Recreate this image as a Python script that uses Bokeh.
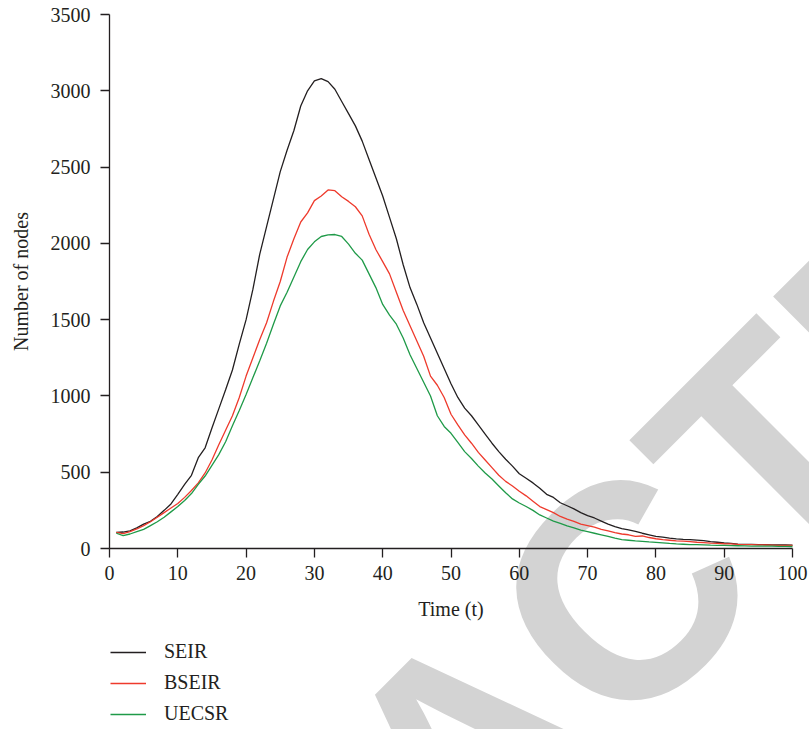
from bokeh.plotting import figure
from bokeh.models import Range1d, FixedTicker, Legend, LegendItem, Label, LinearAxis
from bokeh.embed import file_html
from bokeh.resources import INLINE
import math

# ---------------- data ----------------
t = list(range(1, 101))

seir = [105, 108, 115, 135, 160, 178, 210, 250, 292, 355,
        420, 480, 595, 660, 790, 915, 1040, 1170, 1340, 1500,
        1700, 1930, 2110, 2290, 2470, 2610, 2740, 2900, 3000, 3065,
        3080, 3060, 3010, 2930, 2850, 2770, 2670, 2550, 2430, 2310,
        2170, 2030, 1860, 1710, 1600, 1480, 1380, 1280, 1180, 1080,
        990, 920, 870, 810, 750, 690, 635, 585, 540, 490,
        460, 430, 395, 355, 335, 300, 280, 260, 235, 215,
        200, 180, 160, 143, 130, 122, 112, 100, 90, 80,
        74, 68, 63, 60, 58, 55, 52, 45, 41, 36,
        33, 28, 27, 27, 26, 25, 24, 23, 23, 22]

bseir = [105, 97, 110, 128, 150, 175, 205, 235, 265, 295,
         335, 380, 430, 495, 580, 680, 775, 870, 990, 1130,
         1250, 1370, 1480, 1620, 1750, 1910, 2030, 2140, 2200, 2280,
         2310, 2350, 2345, 2305, 2275, 2240, 2180, 2060, 1960, 1880,
         1800, 1680, 1560, 1460, 1360, 1260, 1130, 1070, 990, 880,
         810, 745, 690, 630, 580, 530, 480, 440, 410, 375,
         345, 310, 275, 255, 235, 210, 192, 178, 160, 150,
         140, 125, 115, 104, 95, 90, 80, 82, 72, 64,
         58, 54, 50, 48, 45, 41, 38, 35, 33, 31,
         30, 27, 26, 25, 24, 23, 22, 21, 21, 20]

uecsr = [100, 85, 95, 110, 125, 150, 175, 205, 240, 275,
         315, 360, 420, 475, 545, 615, 700, 805, 905, 1010,
         1120, 1230, 1345, 1470, 1590, 1680, 1780, 1880, 1960, 2010,
         2045, 2055, 2058, 2045, 1995, 1935, 1890, 1800, 1710, 1600,
         1530, 1470, 1380, 1270, 1180, 1090, 1000, 870, 800, 755,
         695, 635, 590, 540, 495, 455, 410, 365, 325, 298,
         275, 250, 220, 200, 180, 165, 148, 135, 120, 110,
         100, 90, 80, 68, 58, 54, 50, 47, 43, 40,
         37, 33, 30, 28, 26, 25, 24, 22, 21, 20,
         19, 18, 17, 16, 16, 15, 15, 14, 14, 13]

series_names = ["SEIR", "BSEIR", "UECSR"]
series_colors = ["#231f20", "#ee3a2c", "#1f9a48"]

x_ticks = [0, 10, 20, 30, 40, 50, 60, 70, 80, 90, 100]
y_ticks = [0, 500, 1000, 1500, 2000, 2500, 3000, 3500]

x_title = "Time (t)"
y_title = "Number of nodes"
watermark = "RETRACTED"

# ---------------- geometry (pixels) ----------------
W, H = 809, 729
PX_X0, PX_X100 = 109.0, 792.0     # screen x of t=0 and t=100
PX_Y0, PX_Y3500 = 548.0, 14.0     # screen y (from top) of 0 and 3500
sx = (PX_X100 - PX_X0) / 100.0
sy = (PX_Y0 - PX_Y3500) / 3500.0
x_start = -PX_X0 / sx
x_end = (W - PX_X0) / sx
y_end = 3500 + PX_Y3500 / sy
y_start = -(H - PX_Y0) / sy

def data_xy(px, py):
    return (px - PX_X0) / sx, (PX_Y0 - py) / sy

FONT = "Liberation Serif"
AX = "#231f20"

p = figure(width=W, height=H, output_backend="svg", toolbar_location=None,
           x_range=Range1d(x_start, x_end), y_range=Range1d(y_start, y_end),
           x_axis_location=None, y_axis_location=None,
           min_border=0, min_border_left=0, min_border_right=0,
           min_border_top=0, min_border_bottom=0)
p.outline_line_color = None
p.grid.visible = False
p.background_fill_color = "white"
p.border_fill_color = "white"

# watermark behind everything
wx, wy = data_xy(466.6, 749.6)
wm = Label(x=wx, y=wy, text=watermark, angle=math.pi / 4,
           text_align="center", text_baseline="alphabetic",
           text_font="Liberation Sans", text_font_style="bold",
           text_font_size="305px", text_color="#d3d3d3", level="underlay")
p.add_layout(wm)

renderers = []
for ys, c in zip([seir, bseir, uecsr], series_colors):
    r = p.line(t, ys, line_color=c, line_width=1.3)
    renderers.append(r)

xaxis = LinearAxis(fixed_location=0, bounds=(0, 100), ticker=FixedTicker(ticks=x_ticks),
                   axis_label=x_title)
yaxis = LinearAxis(fixed_location=0, bounds=(0, 3500), ticker=FixedTicker(ticks=y_ticks),
                   axis_label=y_title)
for ax in (xaxis, yaxis):
    ax.axis_line_color = AX
    ax.axis_line_width = 1.3
    ax.major_tick_line_color = AX
    ax.major_tick_line_width = 1.3
    ax.major_tick_out = 9
    ax.major_tick_in = 0
    ax.minor_tick_out = 0
    ax.minor_tick_in = 0
    ax.major_label_text_font = FONT
    ax.major_label_text_font_size = "20px"
    ax.major_label_text_color = AX
    ax.axis_label_text_font = FONT
    ax.axis_label_text_font_size = "20px"
    ax.axis_label_text_font_style = "normal"
    ax.axis_label_text_color = AX
xaxis.major_label_standoff = 8
xaxis.axis_label_standoff = 15
yaxis.major_label_standoff = 10
yaxis.axis_label_standoff = 16
p.add_layout(xaxis, "below")
p.add_layout(yaxis, "left")

legend = Legend(items=[LegendItem(label=n, renderers=[r]) for n, r in zip(series_names, renderers)],
                location=(110, 4), orientation="vertical",
                glyph_width=36, glyph_height=20, label_height=20, label_standoff=18,
                spacing=8, padding=0, margin=0,
                background_fill_alpha=0, border_line_color=None,
                label_text_font=FONT, label_text_font_size="20px", label_text_color=AX)
p.add_layout(legend)

open("out.html", "w").write(file_html(p, INLINE))
